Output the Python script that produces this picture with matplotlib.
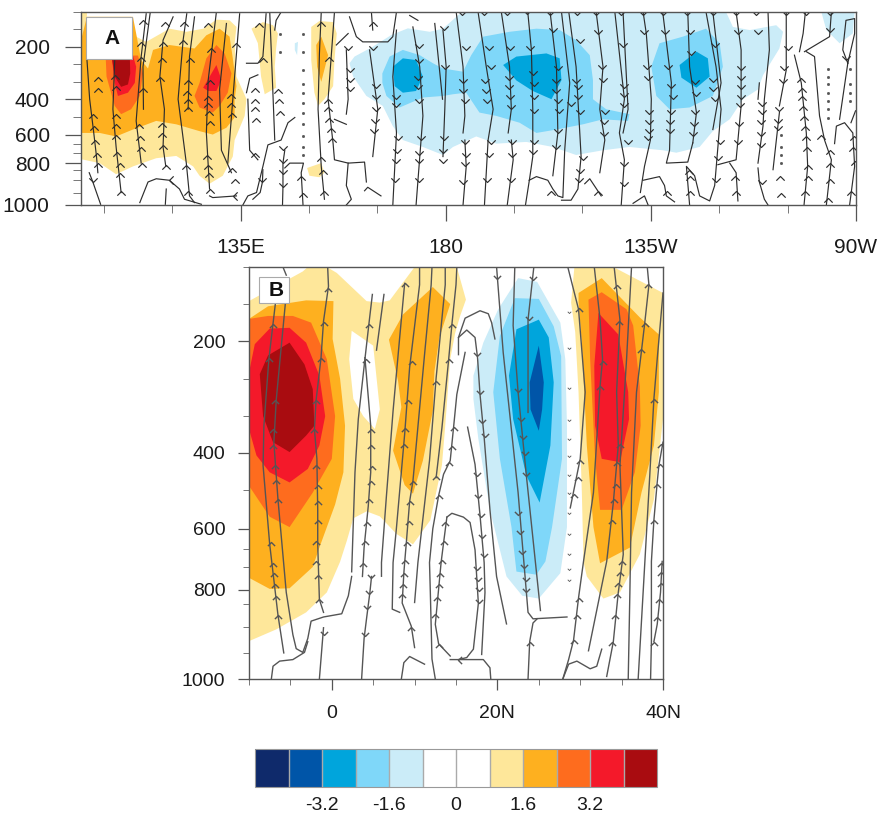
import numpy as np
import matplotlib
matplotlib.use('Agg')
import matplotlib.pyplot as plt
from matplotlib.path import Path
from matplotlib.colors import ListedColormap, BoundaryNorm
from matplotlib.cm import ScalarMappable
from matplotlib.patches import Rectangle

plt.rcParams['font.family'] = ['Liberation Sans', 'DejaVu Sans']

# model levels (hPa) and how far each sits below the top of the axis
levels_hpa = [100, 150, 200, 250, 300, 400, 500, 600, 650, 700, 800, 850, 900, 950, 1000]
levels_pos = [0.0, .09, .18, .271, .362, .451, .542, .635, .684, .729, .783, .817, .873, .938, 1.0]
major_hpa = [200, 400, 600, 800, 1000]

cbar_bounds = [-4.8, -4, -3.2, -2.4, -1.6, -.8, 0, .8, 1.6, 2.4, 3.2, 4, 4.8]
cbar_labels = ['-3.2', '-1.6', '0', '1.6', '3.2']
cbar_ticks = [-3.2, -1.6, 0, 1.6, 3.2]

# Panel A: filled contours (lon, hPa)
a_pos1_west = [(100,762),(104.1,800),(107.7,871),(111.4,825),(116.5,753),(120.9,731),(124.6,825),(126,878),(128.2,913),(131.1,878),(133.3,737),(133.7,629),(135.9,496),(136.3,400),(134.1,285),(133.7,190),(134.1,143),(132.6,124),(129.7,122),(126.8,148),(123.1,157),(119.4,148),(114.3,186),(112.1,171),(111.4,138),(111,114),(101.3,114),(101.3,100),(100,100)]
a_pos2_west = [(100,591),(104.1,591),(107.7,610),(111.4,572),(116.5,524),(120.9,543),(126,581),(128.9,600),(131.9,562),(133.7,505),(133.7,401),(134.1,325),(133.3,233),(132.6,171),(130.4,148),(127.5,167),(124.9,205),(119.4,195),(115.8,209),(114.7,262),(113.2,238),(112.1,162),(111.4,114),(101.3,114),(100,181)]
a_pos3_a = [(105.4,225),(105.6,285),(107.4,439),(108.8,486),(111,458),(112.9,382),(113.6,276),(112.5,225)]
a_pos3_b = [(124.9,382),(126,306),(127.5,233),(129.7,195),(131.5,219),(133,276),(132.2,363),(130.4,439),(128.9,477),(126,448)]
a_pos4_a = [(106.7,225),(107.4,306),(108.1,382),(110.3,363),(111.8,306),(112.1,257),(111.4,225)]
a_pos4_b = [(126.8,334),(129.7,252),(130.8,294),(129.7,353),(127.9,353)]
a_pos5_a = [(106.7,225),(107.4,285),(108.8,329),(110.3,315),(110.8,276),(110.7,225)]
a_pos1_140 = [(137.4,148),(139.9,129),(142.1,138),(143.2,162),(142.8,205),(142.5,257),(142.8,334),(140.3,372),(139.5,285),(138.8,190)]
a_neg1_tiny = [(146.9,190),(147.6,186),(147.4,224),(146.9,209)]
a_pos1_155 = [(150.5,143),(152.3,126),(155.3,129),(156.1,162),(155.6,238),(155.3,325),(153.4,401),(152,439),(151.2,363),(150.5,238)]
a_pos2_155 = [(151.6,195),(152.7,171),(154.2,224),(152.7,300),(151.8,257)]
a_pos1_low = [(149.6,837),(152.7,800),(153.4,864),(152.3,885),(150.1,878)]
a_neg1_main = [(160,228),(164,200),(168.1,166),(171.7,147),(176.5,157),(179.4,148),(183.1,105),(186.7,100),(241.5,100),(243,143),(246.7,152),(252.5,138),(254,157),(253.2,205),(249.6,281),(248.5,344),(245.2,401),(242.3,515),(238.6,581),(235.7,667),(230.6,700),(227.6,686),(220.3,667),(214.5,686),(208.6,722),(203.5,667),(197.7,639),(191.1,648),(186.7,610),(181.6,667),(179.4,722),(175,667),(170.6,629),(168.4,553),(166.2,439),(162.6,382),(159.7,285),(158.9,247)]
a_neg1_east = [(262.4,100),(269.7,100),(269.3,162),(266.4,190),(263.5,152)]
a_neg2_main = [(166.1,276),(167.7,228),(170.6,209),(174.3,224),(177.2,247),(179.4,262),(183.8,271),(185.6,224),(188.2,171),(194,157),(199.9,148),(205,152),(208.6,181),(211.6,224),(212.3,295),(212.3,401),(215.2,458),(220.3,486),(220,524),(214.5,515),(210.1,543),(204.3,572),(199.9,591),(196.2,534),(191.1,496),(187.4,477),(184.5,363),(181.6,372),(179.4,382),(175,391),(169.9,448),(167,382),(166.1,306)]
a_neg2_east = [(225.1,257),(226.9,190),(232,171),(237.1,148),(240.1,190),(240.8,257),(238.6,382),(233.5,448),(229.1,458),(226.2,382)]
a_neg3_a = [(168.4,257),(170.6,233),(173.5,238),(175,285),(173.5,353),(170.6,363),(168.8,325)]
a_neg3_b = [(192.6,252),(195.5,228),(202.1,219),(205,233),(205.4,295),(203.2,401),(199.1,353),(195.5,296)]
a_neg3_c = [(231.3,252),(235,214),(237.5,233),(237.9,285),(235,334),(231.7,288)]

# Panel A: streamlines
a_lines = [
    [(101.3,236),(101.9,401),(102.8,591),(103.4,737),(103.7,864)],
    [(101.8,864),(102.6,906),(103.4,948),(104.3,997)],
    [(107.4,236),(107,458),(107.7,667),(108.8,948)],
    [(114.3,105),(113.2,228),(112.1,524),(113.2,800)],
    [(115.2,100),(113.6,257),(113.7,458)],
    [(120.2,114),(118,181),(117.3,285),(118.3,458),(118,667),(118.6,825)],
    [(123.2,105),(122.4,181),(121.3,401),(123.1,800),(123.8,962),(124.9,990)],
    [(124.9,114),(123.8,228),(123.5,458)],
    [(129.7,100),(127.9,295),(127.5,591),(128.2,934)],
    [(131.9,133),(130.4,344),(130.8,686),(133,864)],
    [(134.8,105),(133.3,401),(132.2,800)],
    [(128.2,962),(128.9,969),(134.1,962)],
    [(112.9,990),(114.7,906),(116.5,892),(119.4,899),(121.6,934),(122.7,976),(126.4,997)],
    [(118.7,934),(118.5,997)],
    [(135.5,1000),(136.6,962),(138.5,948),(139.9,825),(141,655),(143.9,629),(145.4,534),(146.9,505)],
    [(136.3,363),(137,290),(138.8,280)],
    [(136.6,401),(137,686),(138.8,768)],
    [(140.6,105),(139.9,228),(138.8,247),(136.3,247)],
    [(141.4,100),(142.5,629)],
    [(143.9,100),(142.8,124),(142.5,152)],
    [(139.9,850),(139.8,906),(139.3,948),(137.7,976)],
    [(144.7,686),(144.3,800),(144.3,927),(144.2,1000)],
    [(148.7,1000),(148.3,864),(148.8,800),(145.8,800),(144.7,837)],
    [(152.7,100),(152.3,219),(152,458),(152.7,825),(153.4,976)],
    [(155.6,100),(154.2,401),(155.3,648),(155.6,768),(158.6,800),(162.2,790),(162.6,906)],
    [(158.9,114),(160.4,171),(161.8,186),(167.3,186),(168.4,171),(169.2,100)],
    [(156,195),(158.6,162)],
    [(163.7,100),(164,152)],
    [(158.2,209),(158.6,401),(158.2,486)],
    [(155.6,515),(158.2,543)],
    [(163.3,209),(165.1,458),(164,737)],
    [(158.6,800),(158.2,920),(159.3,976),(158.2,1000)],
    [(169.2,152),(168.4,285),(169.2,591),(168.4,1000)],
    [(172.8,143),(174.3,257),(175,496),(173.5,1000)],
    [(172.1,110),(173.9,124)],
    [(177.6,133),(179.3,401)],
    [(162.2,941),(162.9,927),(165.8,962)],
    [(179.4,152),(180.1,257),(179.8,458),(179.4,737)],
    [(182.3,100),(183.8,257),(184.2,496),(183.8,591)],
    [(184.2,629),(184.5,825),(183.8,1000)],
    [(187.1,100),(188.9,257),(190.4,458),(189.3,629),(188.5,1000)],
    [(192.2,100),(194,257),(194.4,458),(193.7,591)],
    [(194.4,629),(194.8,768),(193.5,1000)],
    [(198,100),(198.8,209),(199.1,458),(199.1,737),(198.4,892),(197.5,1000)],
    [(202.9,100),(204.3,257),(204.6,591),(203.5,878)],
    [(198.3,899),(199.9,882),(202.4,899),(203.5,934),(204.6,962),(205.7,969),(206.1,686),(207.2,306),(205.4,100)],
    [(207,100),(208.6,257),(209,401),(209.7,737),(209,934),(207.5,980),(205.4,980)],
    [(213,100),(214.5,257),(213.8,458),(214.9,629),(213.8,864)],
    [(210.5,913),(211.6,892),(214.1,962)],
    [(217.1,100),(219.2,401),(218.1,591),(219.2,768),(218.5,1000)],
    [(218.9,100),(220,458),(218.9,591)],
    [(223.3,100),(224,162),(225.1,401),(224.9,629),(223.6,825),(222.7,948)],
    [(223.3,899),(226.9,882),(228,920),(228.4,962),(230.2,987)],
    [(221.1,993),(223.6,962),(224.4,1000)],
    [(227.6,100),(229.5,306),(229.1,686),(228.4,800),(233.1,790),(234.2,644)],
    [(233.1,100),(233.5,257),(235,477),(234.2,644)],
    [(237.1,100),(239.3,257),(240.4,458),(239,920),(237.9,983),(235.7,962),(234.6,878),(232.8,825),(233.5,1000)],
    [(238.6,100),(240.4,306),(238.6,572)],
    [(243.7,100),(244.8,209),(244.8,439),(243.7,768),(239.7,812)],
    [(242.3,800),(243.7,864),(244.1,983)],
    [(250.7,100),(251,209),(249.9,401),(249.6,553),(248.5,800)],
    [(248.8,306),(248.5,401)],
    [(248.5,837),(248.8,906),(249.9,976),(250.7,1000)],
    [(254.7,100),(254.7,266),(253.2,439)],
    [(253.2,477),(251.8,850)],
    [(258.9,100),(258.4,162),(257.6,214)],
    [(256.5,224),(258,306),(259.1,591),(259.4,825),(258.6,1000)],
    [(259.1,214),(260.9,228),(262,496),(263.1,629),(264.6,768),(263.5,1000)],
    [(264.6,100),(264.2,171),(258.7,214)],
    [(265.3,648),(265.7,553),(267.5,534),(269.3,591),(269.7,825),(268.6,1000)],
    [(266.4,515),(268.2,247),(267.1,209),(267.8,124),(269.7,119),(269.7,162),(268.2,247)],
    [(268.9,534),(269.9,467)],
]

a_up_arrows = [
    (103.8,285),(103.8,334),(102.6,486),(102.9,553),(103,629),(103.4,706),(103.7,800),
    (107.5,280),(107.7,325),(107.6,486),(107.6,543),(107.6,600),(107.9,694),(108.5,800),(108.6,864),(108.8,941),
    (113.6,124),(113.1,186),(113.2,228),(113.6,334),(112.7,543),(112.9,610),(113.2,667),(113.4,800),
    (118.5,129),(118,186),(117.8,233),(117.4,285),(117.8,534),(117.8,591),(118,658),(118.6,812),
    (122.7,129),(122.4,181),(123.8,233),(123.5,295),(123.2,353),(123.5,401),(123.5,448),(123.1,812),(123.5,941),
    (127.9,133),(128.6,205),(128.4,295),(127.9,382),(127.9,420),(128.1,467),(128.4,524),(127.6,722),(127.9,812),(128.1,864),(128.2,934),
    (133.9,190),(133,372),(133,420),(133.1,477),(133.1,837),(133.7,892),
    (139,133),(139.9,233),(138.1,334),(138.1,401),(138.2,448),(138.3,505),(143.2,344),(143.4,401),(143.7,467),(138.1,706),
    (148.3,878),(148.7,948),
    (152.7,129),(154.5,228),(154.2,401),(154.2,448),(154.5,505),(154.8,562),(155,620),(152.7,737),(153,850),(153.4,941),
    (164,129),(228.5,941),(233.3,850),(233.5,878),(233.5,941),(243.4,878),(243.7,941),(253.4,878),(253.6,948),
    (258,290),(258.1,334),(258.2,382),(258.3,439),(258.6,496),(258.9,553),(259.1,610),(259.2,667),(259.4,812),(259.4,878),(258.9,941),
    (262.4,600),(264.2,686),(264.4,800),(264.2,892),(263.8,969),(269.5,610),(269.3,667),(269.7,781),(268.9,941),(213.4,941),(203.2,941),
]
a_down_arrows = [
    (102.6,906),(139.8,906),(144.3,686),(144.3,800),(144.4,871),(144.3,927),
    (158.6,209),(158.9,271),(158.9,300),(158.9,353),(164,209),(164.8,334),(164.8,401),(164.8,467),(164.4,534),(164.2,591),
    (169.2,401),(169.2,448),(169.5,629),(169.3,706),(169.2,800),(168.9,906),
    (174.1,205),(174.1,247),(173.9,295),(173.9,344),(174.1,420),(174.6,629),(174.2,722),(174.1,800),(174.2,906),
    (179.6,152),(179.8,262),(179.6,629),(179.5,706),(179.4,800),
    (183.6,110),(184.4,209),(183.8,306),(183.9,363),(184.2,420),(184.2,648),(184.5,737),(184.2,825),(183.8,913),
    (188.5,110),(189.6,209),(190,262),(188.7,306),(188.9,363),(189.1,420),(189.9,648),(189.6,737),(189.1,906),
    (193.5,110),(194,209),(193.8,295),(193.8,344),(194,401),(194.4,458),(194.6,648),(194.5,737),(194.4,906),
    (197.9,105),(198.6,209),(199.1,281),(199.3,325),(199.3,401),(199.3,477),(199.3,648),(199.1,713),
    (202.9,110),(203.5,157),(204.6,266),(204.3,306),(204.3,363),(204.6,420),(204.8,477),(204.6,591),(204.3,676),
    (208.8,110),(209.4,190),(208.6,306),(209,344),(209,401),(207.5,439),(209.4,486),(210.1,768),(209.5,864),(209.2,906),
    (213,110),(213.4,162),(214.3,262),(214.5,300),(214.9,486),(214.7,543),(214.7,610),
    (218.5,110),(218.9,200),(219.2,334),(219.2,391),(219.2,448),(220,648),(219.2,825),(219.2,920),
    (223.3,110),(223.4,162),(224.1,262),(224.4,295),(224.7,486),(224.7,543),(224.7,591),(224.4,629),
    (227.6,110),(228.2,162),(228.7,262),(229.5,334),(229.8,401),(229.5,486),(229.3,543),(229.3,591),
    (233,110),(233.5,162),(233.9,224),(234.6,315),(234.8,382),(234.6,486),(234.4,553),(234.2,610),
    (238.6,110),(239,200),(238.6,300),(238.6,353),(239,410),(240.1,648),(239.7,768),(239.2,906),
    (243.7,110),(244.1,162),(244.8,266),(244.8,295),(244.8,344),(244.8,401),(244.5,448),(244.3,553),(244.1,648),
    (248.1,110),(248.5,162),(249.4,439),(249.4,486),(249.2,543),(249.2,610),(249.2,667),(249.4,913),
    (254.7,110),(255.1,209),(254.3,266),(254,306),(252.9,534),(252.9,572),(253.2,467),
    (259.1,110),(264.4,110),(264.2,157),(267.9,238),
]
a_left_arrows = [(119.4,899),(133.4,962)]
a_dots = [
    (148.7,162),(148.7,214),(148.7,266),(148.7,315),(148.7,363),(148.7,420),(148.7,477),(148.7,543),(148.7,610),(148.7,667),(148.7,722),
    (143.6,162),(143.7,214),
    (263.8,263),(263.8,285),(263.8,315),(263.8,363),(263.8,410),(263.8,458),(263.8,505),
    (268.6,263),(268.6,315),(268.6,363),(268.6,410),
    (253.6,600),(253.6,667),(253.6,722),(253.6,800),
]

# Panel B: filled contours (lat, hPa)
b_pos1_west = [(-10,146),(-3.5,106),(-2.9,100),(-0.6,100),(0.6,108),(4.2,146),(5.8,148),(7,145),(10,100),(15.1,100),(16.2,144),(15.5,166),(14.9,189),(14.3,224),(13.7,326),(13.3,433),(11.9,578),(9.8,639),(7.8,613),(5.8,568),(4.2,555),(2.6,573),(1.8,631),(1,685),(-0.6,810),(-3.1,869),(-6.7,905),(-10,927)]
b_zero_hole = [(2.4,186),(5,206),(5.8,291),(5.2,335),(3.8,300),(2.6,277),(2.1,224)]
b_pos2_west = [(-10,170),(-7.7,153),(-3.1,145),(0.2,146),(0.1,197),(1,250),(1.6,326),(1.4,452),(0.4,537),(-1.5,647),(-2.3,699),(-5.1,794),(-7.5,797),(-10,747)]
b_pos3_west = [(-10,170),(-7.7,166),(-4.7,166),(-2.5,175),(-0.6,224),(0.4,300),(0,416),(-2.3,506),(-5.1,596),(-7.5,569),(-10,488)]
b_pos4_west = [(-10,242),(-9.3,204),(-7.5,183),(-5.1,182),(-3.1,202),(-1.5,246),(-0.8,300),(-1.5,380),(-2.9,443),(-5.1,479),(-7.5,452),(-9.1,407),(-10,335)]
b_pos5_west = [(-8.7,244),(-7.7,219),(-5.1,202),(-3.3,231),(-2.3,264),(-2.1,326),(-3.1,353),(-5.1,398),(-7.1,371),(-8.3,300)]
b_pos2_mid = [(6.9,198),(8.6,164),(12.2,127),(14.3,150),(13,195),(12.4,240),(12.2,293),(11,421),(9.8,509),(8.8,486),(7.4,394),(8.4,288),(8,253)]
b_neg1 = [(17.1,246),(18.3,202),(20.1,157),(22.5,115),(24.8,120),(27.6,175),(28.2,224),(28.4,326),(28.4,596),(27.6,726),(25,832),(23,822),(21.1,741),(19.1,551),(17.7,362),(17.1,277)]
b_neg2 = [(19.5,268),(20.3,193),(22.1,142),(25,143),(26.8,180),(27.7,220),(27.8,416),(26.6,596),(25.8,684),(24.7,733),(22.3,719),(21.7,596),(20.3,416)]
b_neg3 = [(21.4,246),(22.3,184),(25,171),(26.2,195),(26.8,255),(26.4,380),(25.1,532),(23.5,461),(21.9,308)]
b_neg4 = [(23.9,255),(25,206),(25.6,255),(25.4,291),(25,340),(24,291)]
b_pos1_east = [(28.9,148),(29.3,100),(34,100),(40,135),(40,308),(38.9,524),(37.2,665),(34.8,810),(32.8,832),(30.8,741),(30.4,685),(30.2,506),(29.8,268),(29.4,188)]
b_pos2_east = [(29.8,135),(32.6,115),(37.2,168),(39.5,191),(39.5,268),(38.9,380),(37.4,506),(36,647),(32.4,689),(31.6,596),(30.8,380),(30.2,202),(29.8,148)]
b_pos3_east = [(31,144),(32.6,134),(35.6,157),(36.4,179),(37.2,260),(37.3,326),(36.6,452),(35,551),(32.4,551),(31.8,416),(31.2,224)]
b_pos4_east = [(32.2,162),(34.6,191),(35.8,268),(35.9,308),(34.8,425),(32.6,416),(31.8,326),(31.7,233)]

# Panel B: streamlines
b_lines = [
    [(-6.8,148),(-7.6,224),(-8.2,326),(-8.3,434),(-7.5,639),(-6.5,875),(-5.8,949)],
    [(-5.6,148),(-6.7,277),(-7,371),(-6.5,524),(-5.5,810),(-4.7,915),(-4.3,941),(-3.5,948),(-2.9,922),(-2.5,888),(-1,879),(1.2,872),(2,822),(2.4,741)],
    [(-5.9,100),(-5.5,111)],
    [(-0.5,100),(-0.4,126),(-1,173),(-1.3,222),(-1.9,279),(-2.1,335),(-1.8,416),(-1.7,551),(-1.7,639),(-1.5,835),(-1,869)],
    [(-7.3,1000),(-7.1,975),(-6.3,965),(-4.7,962),(-3.3,948),(-2.9,928)],
    [(-1.5,1000),(-1,902)],
    [(4.9,137),(4.5,175),(4,224),(3.2,308),(2.8,452),(2.4,720)],
    [(4,222),(4.7,326),(4.7,452),(4.4,542),(3.9,647),(3.7,741)],
    [(6.3,137),(5.4,212)],
    [(4.8,741),(4.6,810),(4.2,882),(3.9,922),(3.6,1000)],
    [(8.8,122),(8.2,195),(7.4,293),(6.6,514),(6,687),(6,740)],
    [(10.6,100),(10.6,124),(9.4,235),(8.8,349),(7.8,600),(7.4,687),(7.3,862),(8.2,869)],
    [(12.1,100),(12,124),(11.2,218),(9.8,475),(9.4,529),(9,635),(8.8,687),(8.7,727),(8.5,848),(9.6,899),(10,939)],
    [(13.7,100),(13.7,124),(12.6,249),(11.8,421),(10.4,687),(10,846)],
    [(15.1,100),(15,124),(14.5,178),(14.1,226),(13.3,332),(12.6,466)],
    [(16.1,215),(15.1,271),(14.7,332),(14.3,421),(13.5,457),(12.9,514),(12.2,600),(11.8,687),(11.9,810),(12.1,961),(12.5,1000)],
    [(15.3,218),(15.3,195),(16.3,185),(17.3,195),(17.6,222),(17.9,271),(18.4,358),(19.1,551),(19.9,741),(21.1,894)],
    [(15.3,195),(16.1,169),(17.9,159),(18.9,163),(19.3,175),(19.7,197)],
    [(16.4,330),(17.3,431),(17.9,565),(18.4,687),(18.5,810),(18.1,952)],
    [(13.9,570),(14.5,560),(15.9,570),(16.7,584),(17.3,653),(17.7,849),(17.1,942),(16.3,958),(15.3,962)],
    [(13.9,570),(13.5,635),(13.2,687),(12.5,895),(12.9,932),(14.3,955)],
    [(14.3,962),(18.3,962),(19.1,978),(19.2,1000)],
    [(8.4,1000),(8.7,968),(9.4,956),(11.2,971)],
    [(19.9,100),(20.7,215),(22.5,506),(23.5,810),(23.7,869),(24.3,883),(28.4,879)],
    [(22.1,100),(21.9,179),(22.5,268),(23.5,461),(25.2,865)],
    [(24.4,100),(23.7,171),(23.7,295)],
    [(23.7,1000),(23.9,928),(24.3,892),(24.8,883)],
    [(28.5,100),(29.8,157),(30.6,268),(30,416),(28.8,546)],
    [(31.7,100),(32.4,171),(32.7,224),(32.4,260),(31.6,506),(30.4,684),(29.8,829),(29.2,925),(28.6,962),(27.9,1000)],
    [(34.1,100),(34.8,171),(34.4,268),(34.6,380),(34,532),(33.2,684),(31,945)],
    [(36.2,100),(35.6,224),(34.8,434),(35.2,665),(34.6,810),(34,928),(33.2,995)],
    [(38.1,100),(38.3,124),(37.8,175),(37.4,213),(36.8,268),(36.2,506),(36,810),(35.8,1000)],
    [(40,135),(39.3,224),(38.9,277),(38.4,461),(37.6,810),(37,1000)],
    [(40,371),(39.5,434),(39.3,479),(38.9,578),(38.6,684),(38.6,928),(38.5,1000)],
    [(39.9,684),(39.7,810),(39.3,895),(38.9,928)],
    [(27.9,1000),(28.6,971),(29.6,965),(31.2,980),(32,975),(32.6,942)],
]
b_up_arrows = [
    (-7.1,177),(-7.6,222),(-6.8,279),(-7.1,335),(-7.1,380),(-6.9,433),(-6.7,473),(-6.5,524),(-7.3,634),(-7.1,689),(-7,727),(-6.8,776),(-6.7,823),(-6.5,875),
    (-0.5,128),(-1,174),(-1.3,222),(-1.9,279),(-2.1,335),(-1.9,433),(-1.7,487),(-1.7,528),(-1.7,578),(-1.9,630),(-1.9,682),(-1.7,734),(-1.5,835),
    (4.5,177),(4.1,224),(4.7,335),(4.7,380),(4.8,434),(4.7,475),(4.5,524),(4.3,582),(4,631),(3.8,688),
    (8.9,122),(9.7,226),(9.2,279),(8.9,332),(8.7,376),(9.8,475),(9.5,527),(9.3,581),(9.1,634),(8.9,680),(8.7,727),(8.6,776),(8.5,816),(9.6,901),
    (12.6,253),(12.6,462),(14.5,177),(14.1,224),(14.7,329),(14.5,381),(14.2,424),(13,512),(13.7,583),(13.5,630),(13.3,681),(13.1,727),(12.9,776),(12.7,828),(12.5,872),(12.9,932),
    (23.9,928),(29.8,155),(30,420),(29.7,465),(29.3,510),(32.7,226),(32.4,260),(29.9,829),(29.6,875),(29.2,925),
    (34.4,124),(34.7,173),(34.8,376),(34.5,425),(34.3,483),(34.1,524),(33.9,578),(35,684),(34.8,720),(34.6,769),(34.5,816),(34.2,875),(33.9,928),
    (38.2,123),(37.8,175),(37.4,211),(38.9,277),(39.7,376),(39.6,429),(39.3,483),(38.9,578),(38.9,928),(39.8,688),(39.8,720),(39.7,769),(39.5,835),(39.3,879),
]
b_down_arrows = [
    (-1,915),(4.7,748),(4.5,814),(4.3,862),(4,918),
    (17.5,220),(17.9,271),(18.2,318),(18.5,358),(17.5,462),(17.7,519),(18,570),(18.2,622),(18.4,673),
    (17.5,713),(17.7,762),(17.8,804),(17.8,848),(19.9,116),(22.5,268),(22.9,313),(23.1,362),(23.3,407),(23.5,461),
    (22.5,565),(22.7,613),(23,665),(23.2,705),(23.4,762),(23.5,810),(24.3,117),(23.8,171),
]
b_left_arrows = [(15.3,962)]
b_small_ticks = [(28.7,162),(28.7,211),(28.7,264),(28.7,314),(28.7,364),(28.7,412),(28.7,461),(28.7,510),(28.7,561),(28.7,615),(28.7,666),(28.7,710),(28.7,762)]

colors = ['#0f2a6b', '#0055a8', '#00a5dc', '#7fd7f9', '#cbecf8', '#ffffff',
          '#ffffff', '#fee79a', '#feb01f', '#fe6c1e', '#f4192a', '#a90c10']
NEG4, NEG3, NEG2, NEG1 = colors[1], colors[2], colors[3], colors[4]
POS1, POS2, POS3, POS4, POS5 = colors[7], colors[8], colors[9], colors[10], colors[11]

# painted from the outer contour inwards
a_shades = [
    (a_pos1_west, POS1), (a_pos2_west, POS2), (a_pos3_a, POS3), (a_pos3_b, POS3),
    (a_pos4_a, POS4), (a_pos4_b, POS4), (a_pos5_a, POS5),
    (a_pos1_140, POS1), (a_neg1_tiny, NEG1), (a_pos1_155, POS1), (a_pos2_155, POS2), (a_pos1_low, POS1),
    (a_neg1_main, NEG1), (a_neg1_east, NEG1), (a_neg2_main, NEG2), (a_neg2_east, NEG2),
    (a_neg3_a, NEG3), (a_neg3_b, NEG3), (a_neg3_c, NEG3),
]
b_shades = [
    (b_pos1_west, POS1), (b_zero_hole, '#ffffff'), (b_pos2_west, POS2), (b_pos3_west, POS3), (b_pos4_west, POS4), (b_pos5_west, POS5),
    (b_pos2_mid, POS2), (b_neg1, NEG1), (b_neg2, NEG2), (b_neg3, NEG3), (b_neg4, NEG4),
    (b_pos1_east, POS1), (b_pos2_east, POS2), (b_pos3_east, POS3), (b_pos4_east, POS4),
]

up_mark = Path([(-1, -1), (0, 0), (1, -1)])
down_mark = Path([(-1, 1), (0, 0), (1, 1)])
left_mark = Path([(1, -1), (0, 0), (1, 1)])


# the axis scale has to grow with pressure, ylim then turns it upside down
def to_pos(p):
    return np.interp(p, levels_hpa, levels_pos)


def from_pos(f):
    return np.interp(f, levels_pos, levels_hpa)


def draw_panel(ax, shades, lines, ups, downs, lefts, line_color, mark_size, lw):
    for poly, c in shades:
        x, y = zip(*poly)
        ax.fill(x, y, color=c, lw=0, zorder=1)
    for line in lines:
        x, y = zip(*line)
        ax.plot(x, y, color=line_color, lw=lw, zorder=3, solid_joinstyle='round')
    for pts, mark in ((ups, up_mark), (downs, down_mark), (lefts, left_mark)):
        x, y = zip(*pts)
        ax.plot(x, y, ls='none', marker=mark, ms=mark_size, mfc='none', mec=line_color,
                mew=lw, zorder=4)
    ax.set_yscale('function', functions=(to_pos, from_pos))
    ax.set_ylim(1000, 100)
    ax.set_yticks(major_hpa)
    ax.set_yticks([p for p in levels_hpa if p not in major_hpa], minor=True)
    ax.set_yticklabels([str(p) for p in major_hpa])
    for s in ax.spines.values():
        s.set_color('#555555')
        s.set_linewidth(1.0)
        s.set_zorder(6)


fig = plt.figure(figsize=(8.86, 8.14), dpi=100)
W, H = 886., 814.

# Panel A
ax1 = fig.add_axes([81/W, 1-205/H, 775/W, 193/H])
draw_panel(ax1, a_shades, a_lines, a_up_arrows, a_down_arrows, a_left_arrows, '#2e2e2e', 6.0, .85)
ax1.plot(*zip(*a_dots), ls='none', marker='s', ms=1.0, color='#555555', zorder=3)
ax1.set_xlim(100, 270)
ax1.set_xticks([135, 180, 225, 270])
ax1.set_xticklabels(['135E', '180', '135W', '90W'])
ax1.set_xticks(np.arange(105, 270, 15), minor=True)
ax1.tick_params(which='major', length=11.5, width=.9, color='#555555', labelsize=15, labelcolor='#1a1a1a')
ax1.tick_params(which='minor', length=5.8, width=.7, color='#777777')
ax1.tick_params(axis='x', which='major', pad=12)
ax1.tick_params(axis='y', which='major', pad=11)
ax1.add_patch(Rectangle((.0065, .7565), .0593, .2175, transform=ax1.transAxes, fc='white', ec='#aaaaaa', lw=.8, zorder=7))
ax1.text(.0400, .865, 'A', transform=ax1.transAxes, ha='center', va='center', fontsize=15, fontweight='bold', color='#111111', zorder=8)

# Panel B
ax2 = fig.add_axes([249/W, 1-679/H, 414/W, 412/H])
draw_panel(ax2, b_shades, b_lines, b_up_arrows, b_down_arrows, b_left_arrows, '#555555', 5.2, 1.0)
ax2.plot(*zip(*b_small_ticks), ls='none', marker=down_mark, ms=2.5, mfc='none', mec='#555555', mew=.6, zorder=3)
ax2.set_xlim(-10, 40)
ax2.set_xticks([0, 20, 40])
ax2.set_xticklabels(['0', '20N', '40N'])
ax2.set_xticks([-10, -5, 5, 10, 15, 25, 30, 35], minor=True)
ax2.tick_params(which='major', length=8, width=.9, color='#555555', labelsize=14, labelcolor='#1a1a1a')
ax2.tick_params(which='minor', length=4, width=.7, color='#777777')
ax2.tick_params(axis='x', which='major', pad=11)
ax2.tick_params(axis='y', which='major', pad=9)
ax2.add_patch(Rectangle((.024, .913), .0726, .063, transform=ax2.transAxes, fc='white', ec='#aaaaaa', lw=.8, zorder=7))
ax2.text(.0652, .944, 'B', transform=ax2.transAxes, ha='center', va='center', fontsize=15, fontweight='bold', color='#111111', zorder=8)

# Colour bar
cax = fig.add_axes([255/W, 1-787/H, 402/W, 38/H])
sm = ScalarMappable(norm=BoundaryNorm(cbar_bounds, 12), cmap=ListedColormap(colors))
cb = fig.colorbar(sm, cax=cax, orientation='horizontal', drawedges=True, spacing='uniform')
cb.dividers.set_color('#aaaaaa')
cb.dividers.set_linewidth(1.0)
cb.outline.set_edgecolor('#999999')
cb.outline.set_linewidth(.8)
cb.set_ticks(cbar_ticks)
cb.set_ticklabels(cbar_labels)
cb.minorticks_off()
cax.tick_params(length=0, labelsize=14, labelcolor='#1a1a1a', pad=7)

plt.savefig('out.png', dpi=100)
